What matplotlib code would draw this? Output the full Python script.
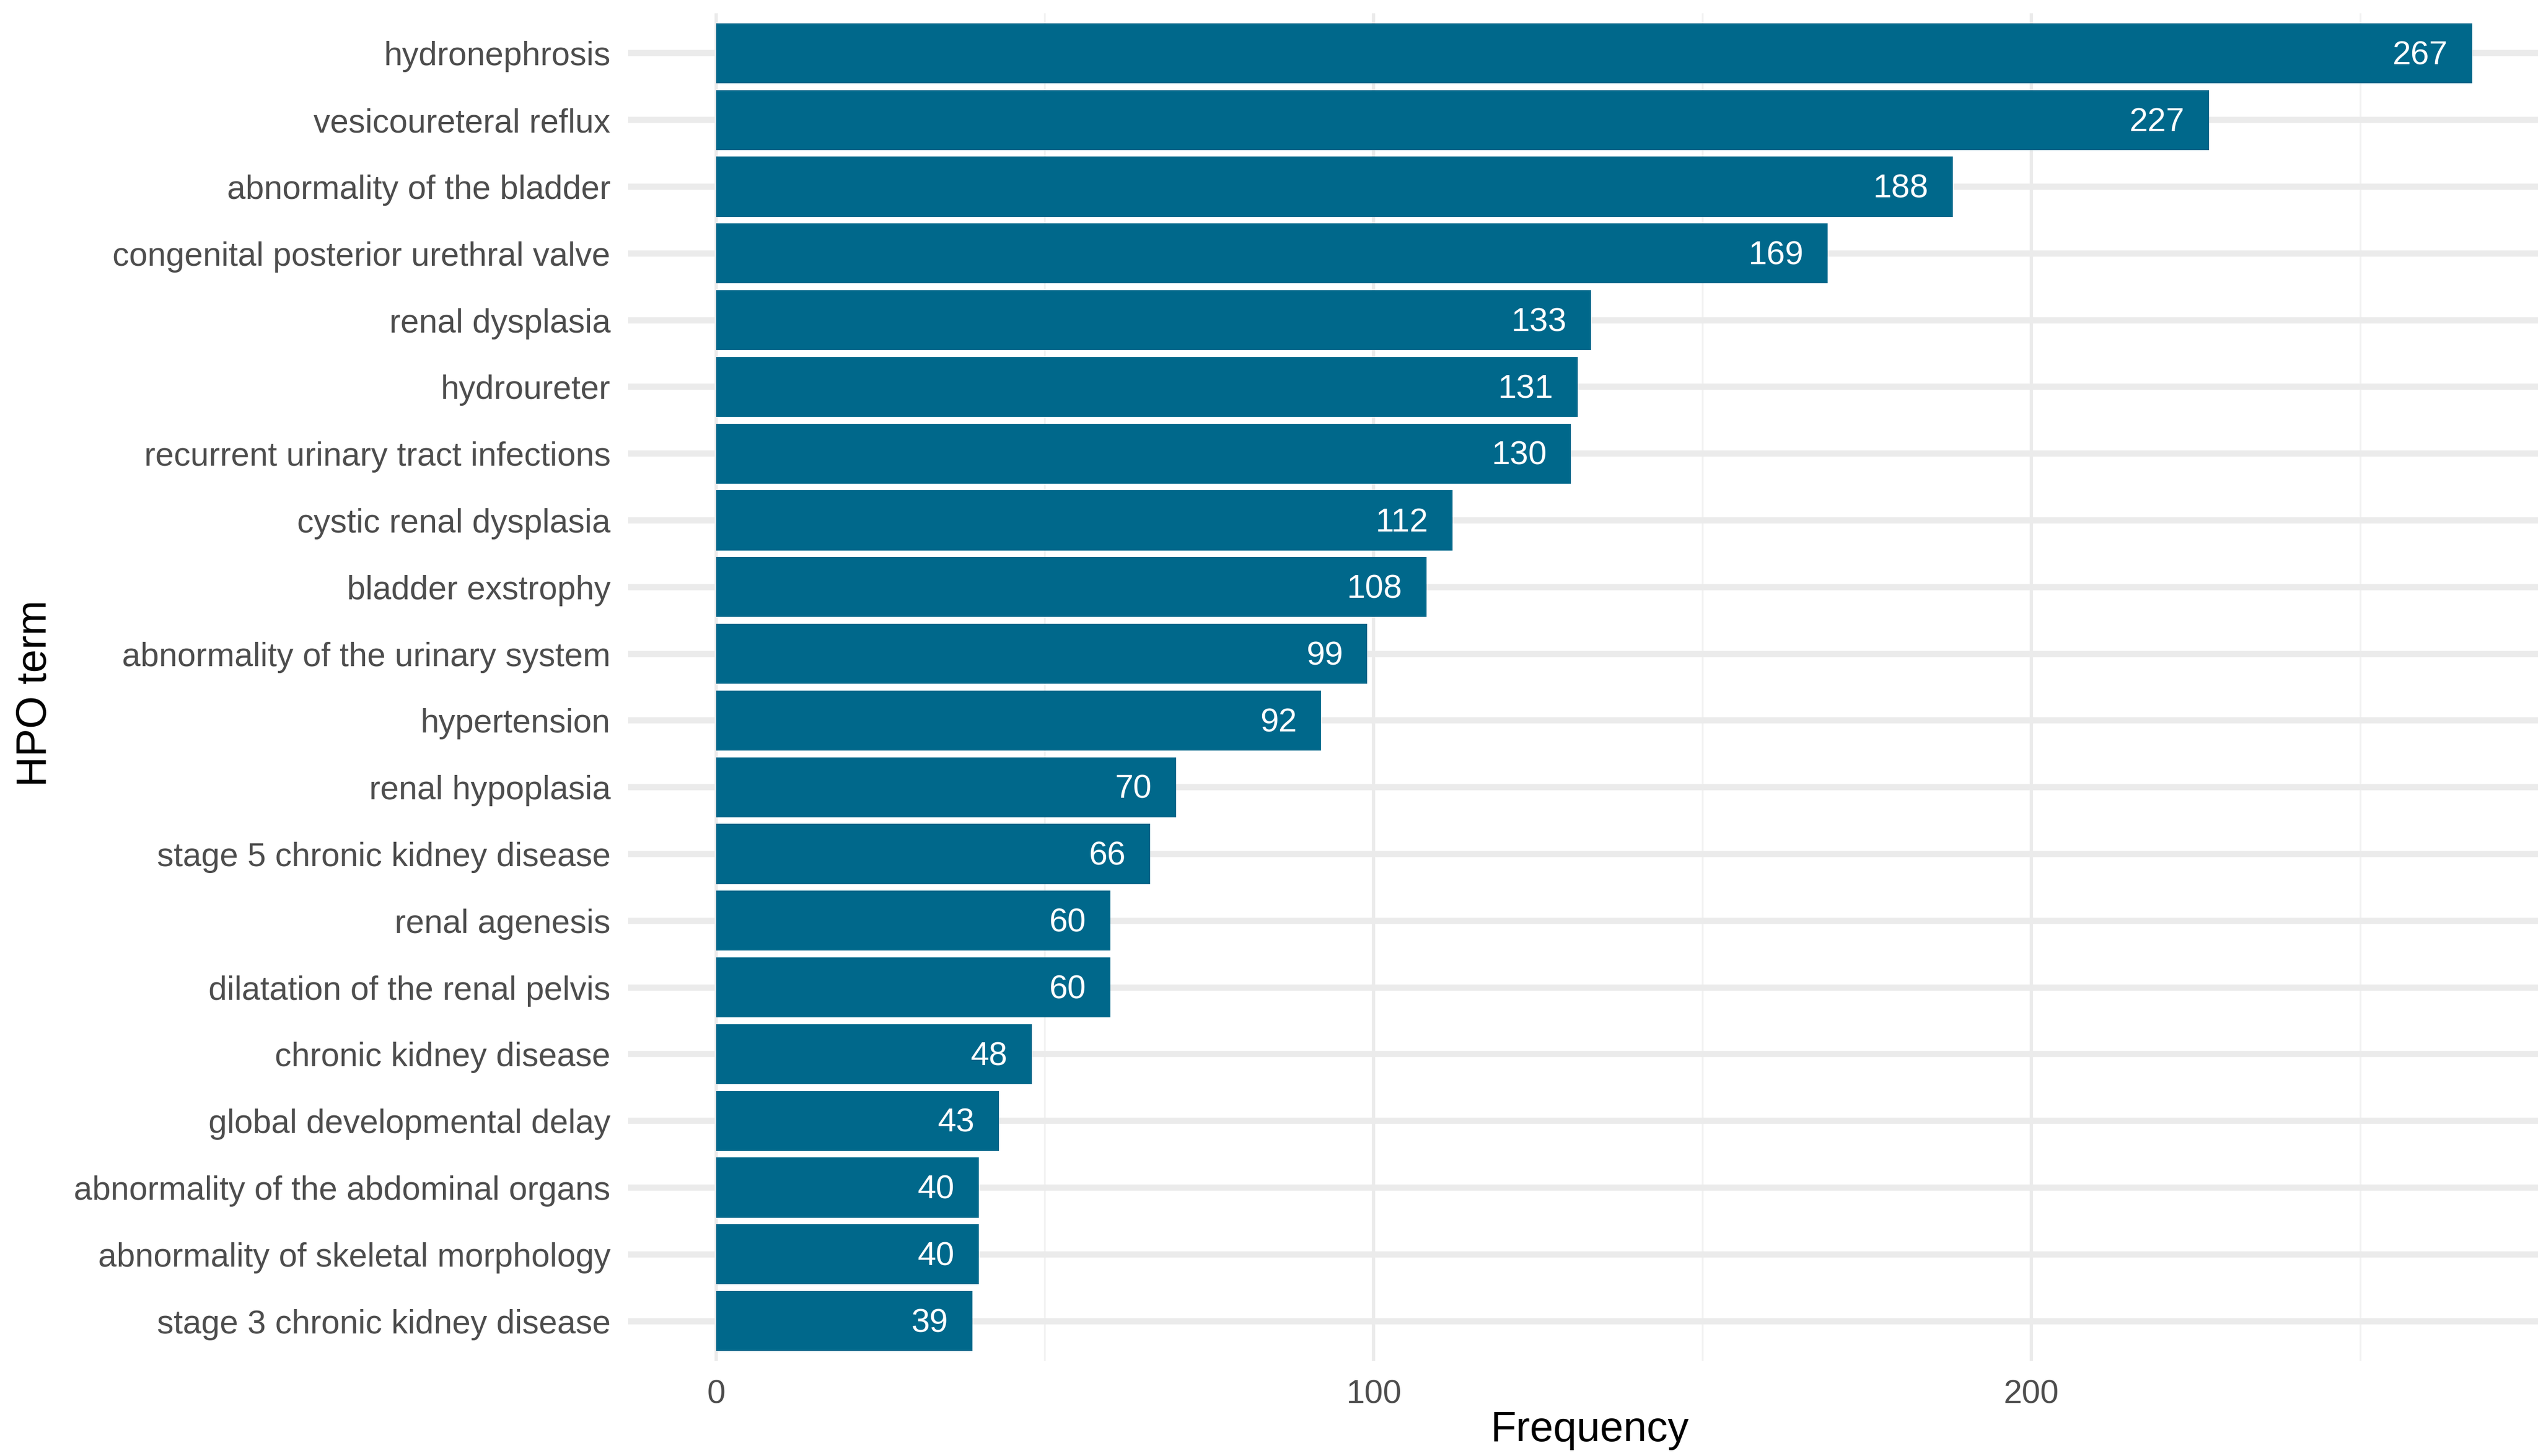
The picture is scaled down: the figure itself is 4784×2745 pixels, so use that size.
import numpy as np
import matplotlib
matplotlib.use('Agg')
import matplotlib.pyplot as plt

plt.rcParams['font.family'] = ['Liberation Sans', 'DejaVu Sans']

terms = ['hydronephrosis', 'vesicoureteral reflux', 'abnormality of the bladder',
         'congenital posterior urethral valve', 'renal dysplasia', 'hydroureter',
         'recurrent urinary tract infections', 'cystic renal dysplasia',
         'bladder exstrophy', 'abnormality of the urinary system', 'hypertension',
         'renal hypoplasia', 'stage 5 chronic kidney disease', 'renal agenesis',
         'dilatation of the renal pelvis', 'chronic kidney disease',
         'global developmental delay', 'abnormality of the abdominal organs',
         'abnormality of skeletal morphology', 'stage 3 chronic kidney disease']
counts = [267, 227, 188, 169, 133, 131, 130, 112, 108, 99, 92, 70, 66, 60, 60,
          48, 43, 40, 40, 39]

W, H = 4784, 2745
fig = plt.figure(figsize=(W / 300, H / 300), dpi=300)
# panel position in pixels
left, right, top, bottom = 1184, 4784, 25, 2566
ax = fig.add_axes([left / W, 1 - bottom / H, (right - left) / W, (bottom - top) / H])

y = np.arange(len(terms))
ax.barh(y, counts, height=0.9, color='#00688B', zorder=2)
for yi, c in zip(y, counts):
    ax.annotate(str(c), (c, yi), xytext=(-11, -1), textcoords='offset points',
                ha='right', va='center', color='white', fontsize=15, zorder=3)

ax.set_ylim(len(terms) - 0.4, -0.6)
ax.set_xlim(-13.35, 277)
ax.set_yticks(y)
ax.set_yticklabels(terms)
ax.set_xticks([0, 100, 200])
ax.set_xticks([50, 150, 250], minor=True)

ax.grid(axis='y', color='#EBEBEB', linewidth=2.8, zorder=0)
ax.grid(axis='x', which='major', color='#EBEBEB', linewidth=1.5, zorder=0)
ax.grid(axis='x', which='minor', color='#F2F2F2', linewidth=0.8, zorder=0)
ax.set_axisbelow(True)
for s in ax.spines.values():
    s.set_visible(False)
ax.tick_params(axis='both', which='both', length=0, labelsize=15,
               labelcolor='#4D4D4D')
ax.tick_params(axis='y', pad=8)
ax.tick_params(axis='x', pad=8)

ax.set_xlabel('Frequency', fontsize=19, color='black', va='center')
ax.xaxis.set_label_coords(0.5 + (2997 - 2984) / 3600, -(2697 - 2566) / 2541)
ax.set_ylabel('HPO term', fontsize=19, color='black', va='center')
ax.yaxis.set_label_coords((67 - 1184) / 3600, 0.5 + (1284 - 1296) / 2541)

fig.savefig('out.png', dpi=300)
